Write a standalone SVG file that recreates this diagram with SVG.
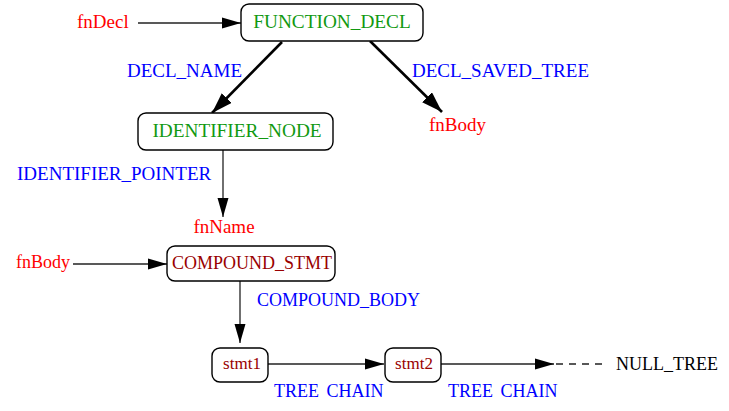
<svg xmlns="http://www.w3.org/2000/svg" width="729" height="411" viewBox="0 0 729 411">
<style>
text{font-family:"Liberation Serif","Times New Roman",serif;}
.node rect{fill:#fff;stroke:#000;stroke-width:1.4;}
.n{font-size:18px;text-anchor:middle;}
.g{fill:#119911;font-size:19.3px;}
.dr{fill:#990000;}
.r{fill:#ff0000;font-size:19px;}
.b{fill:#0000ff;font-size:19px;}
.k{fill:#000;font-size:18px;}
.thin{stroke:#222;stroke-width:1.3;fill:none;marker-end:url(#ah);}
.thick{stroke:#000;stroke-width:2.6;fill:none;marker-end:url(#ahb);}
</style>
<defs>
<marker id="ah" markerUnits="userSpaceOnUse" markerWidth="20" markerHeight="12" refX="19" refY="5.5" orient="auto" viewBox="0 0 20 11">
<path d="M0,0 L19,5.5 L0,11 z" fill="#000"/>
</marker>
<marker id="ahb" markerUnits="userSpaceOnUse" markerWidth="22" markerHeight="14" refX="21" refY="7" orient="auto" viewBox="0 0 22 14">
<path d="M0,0 L21,7 L0,14 z" fill="#000"/>
</marker>
</defs>
<rect width="729" height="411" fill="#fff"/>
<g id="connectors">
<line class="thin" x1="138" y1="23" x2="241" y2="23"/>
<line class="thick" x1="282" y1="42" x2="212" y2="113"/>
<line class="thick" x1="370" y1="41" x2="442" y2="112"/>
<line class="thin" x1="223" y1="150" x2="223" y2="217"/>
<line class="thin" x1="73" y1="264" x2="167" y2="264"/>
<line class="thin" x1="240" y1="281" x2="240" y2="343"/>
<line class="thin" x1="268" y1="364" x2="384" y2="364"/>
<line class="thin" x1="441" y1="364" x2="554" y2="364"/>
<line x1="556" y1="364" x2="606" y2="364" stroke="#222" stroke-width="1.3" stroke-dasharray="7,6"/>
<text class="b" x="127" y="77">DECL_NAME</text>
<text class="b" x="412" y="77">DECL_SAVED_TREE</text>
<text class="b" x="17" y="180">IDENTIFIER_POINTER</text>
<text class="b" x="257" y="306" style="font-size:18px">COMPOUND_BODY</text>
<text class="b" x="274" y="397" style="font-size:18px" word-spacing="3">TREE CHAIN</text>
<text class="b" x="448" y="397" style="font-size:18px" word-spacing="3">TREE CHAIN</text>
</g>
<g id="fnDecl"><text class="r" x="77" y="28">fnDecl</text></g>
<g id="fnBody1"><text class="r" x="429" y="131">fnBody</text></g>
<g id="fnName"><text class="r" x="224" y="233" text-anchor="middle">fnName</text></g>
<g id="fnBody2"><text class="r" x="16" y="268" style="font-size:18px">fnBody</text></g>
<g id="FUNCTION_DECL" class="node"><rect x="241" y="4" width="182" height="37" rx="8"/><text class="n g" x="332" y="28">FUNCTION_DECL</text></g>
<g id="IDENTIFIER_NODE" class="node"><rect x="138" y="113" width="195" height="37" rx="8"/><text class="n g" x="237" y="137">IDENTIFIER_NODE</text></g>
<g id="COMPOUND_STMT" class="node"><rect x="167" y="246" width="168" height="35" rx="8"/><text class="n dr" x="252" y="269">COMPOUND_STMT</text></g>
<g id="stmt1" class="node"><rect x="212" y="348" width="56" height="34" rx="8"/><text class="n dr" x="242" y="369" style="font-size:17px">stmt1</text></g>
<g id="stmt2" class="node"><rect x="385" y="348" width="56" height="34" rx="8"/><text class="n dr" x="414" y="369" style="font-size:17px">stmt2</text></g>
<g id="NULL_TREE"><text class="k" x="616" y="370">NULL_TREE</text></g>
</svg>
